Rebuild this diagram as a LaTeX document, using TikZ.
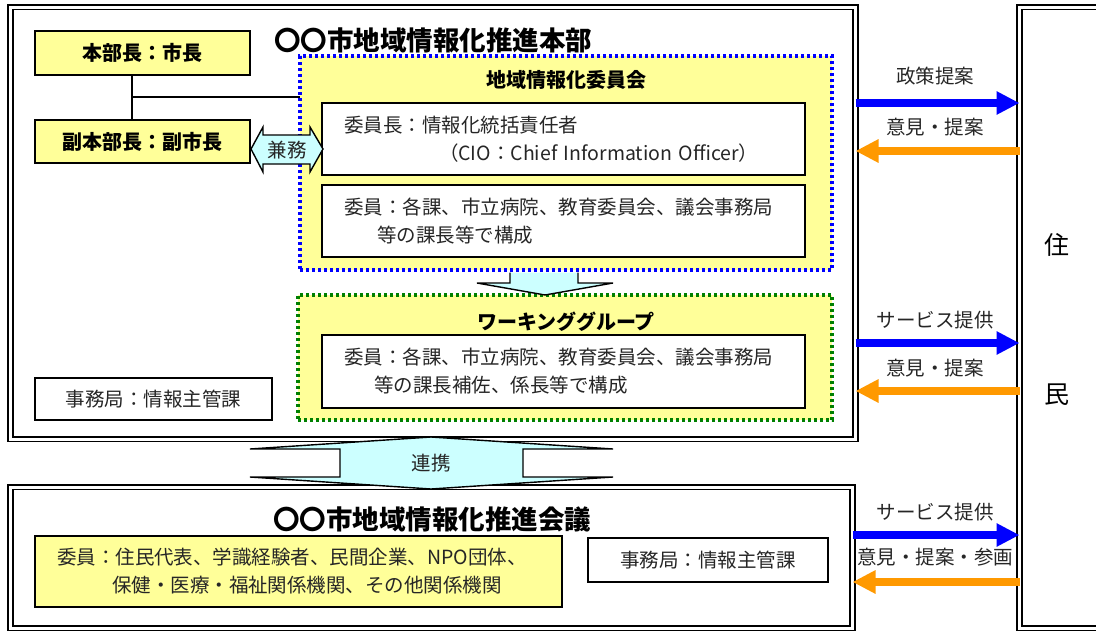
\documentclass[tikz,border=0pt]{standalone}
\usepackage{fontspec}
\setmainfont{Noto Sans CJK JP}
\usetikzlibrary{arrows.meta}

\definecolor{ylw}{HTML}{FFFF99}
\definecolor{lcyan}{HTML}{CCFFFF}
\definecolor{arrblue}{HTML}{0000FF}
\definecolor{arrorange}{HTML}{FF9900}
\definecolor{dotgreen}{HTML}{008000}

\newcommand{\txtbody}{\fontsize{19.5}{28}\selectfont}
\newcommand{\txthead}{\fontsize{20}{22}\selectfont\bfseries}
\newcommand{\txttitle}{\fontsize{26.5}{30}\selectfont\bfseries}

\tikzset{
  frame/.style={draw, line width=1.9pt, double, double distance=3pt,
    inner sep=0pt, outer sep=0pt},
  box/.style={draw, line width=1.4pt, inner sep=0pt, outer sep=0pt},
  textbox/.style={box, fill=white, text width=#1, align=left,
    inner xsep=22pt, font=\txtbody, text=black!85},
  headbox/.style={box, fill=ylw, font=\txthead},
  dotbox/.style={box, fill=ylw, line width=3.2pt, dash pattern=on 3pt off 3pt},
  flow/.style={line width=8pt, -{Triangle[length=23pt, width=22pt]}},
  lbl/.style={font=\txtbody, text=black!85, inner sep=0pt}
}

\begin{document}
\begin{tikzpicture}[x=1pt, y=-1pt]
  \clip (0,0) rectangle (1096,632);
  \fill[white] (0,0) rectangle (1096,632);

  % frames
  \node (hq) [frame, minimum width=845pt, minimum height=432pt] at (433,223) {};
  \node (council) [frame, minimum width=842pt, minimum height=141pt] at (431.5,557.5) {};
  \node (res) [frame, minimum width=96pt, minimum height=621pt] at (1067.5,317.5) {};

  \node (hqtitle) [font=\txttitle] at (433,40) {〇〇市地域情報化推進本部};
  \node (counciltitle) [font=\txttitle] at (432,519) {〇〇市地域情報化推進会議};

  % headquarters
  \node (mayor) [headbox, minimum width=215pt, minimum height=44pt] at (142.5,53) {本部長：市長};
  \node (vice) [headbox, minimum width=215pt, minimum height=43pt] at (142.5,141.5) {副本部長：副市長};
  \node (office) [box, fill=white, minimum width=237pt, minimum height=42pt,
    font=\txtbody, text=black!85] at (153.5,399) {事務局：情報主管課};

  \node (cmte) [dotbox, draw=arrblue, minimum width=532pt, minimum height=214pt] at (566,163) {};
  \node (wg) [dotbox, draw=dotgreen, minimum width=534pt, minimum height=125pt] at (565,357.5) {};

  \node (cmtetitle) [font=\txthead] at (566,80) {地域情報化委員会};
  \node (wgtitle) [font=\txthead] at (566,322) {ワーキンググループ};

  \node (chair) [textbox=439pt, minimum height=72pt] at (563.5,139)
    {委員長：情報化統括責任者\\\hspace*{95pt}（CIO：Chief Information Officer）};
  \node (members) [textbox=439pt, minimum height=72pt] at (563.5,221)
    {委員：各課、市立病院、教育委員会、議会事務局\\\hspace*{33pt}等の課長等で構成};
  \node (wgmembers) [textbox=439pt, minimum height=73pt] at (563.5,371.5)
    {委員：各課、市立病院、教育委員会、議会事務局\\\hspace*{30pt}等の課長補佐、係長等で構成};

  \coordinate (tee) at (132,97);
  \draw[line width=1.4pt] (mayor.south -| tee) -- (vice.north -| tee);
  \draw[line width=1.4pt] (tee) -- (cmte.west |- tee);

  % 兼務
  \filldraw[fill=lcyan, line width=1.4pt]
    (251,149) -- (263,127) -- (263,135) -- (310,135) -- (310,127) -- (323,149)
    -- (310,172) -- (310,164) -- (263,164) -- (263,172) -- cycle;
  \node (kenmu) [lbl] at (287,150) {兼務};

  % committee to working group
  \filldraw[fill=lcyan, line width=1.4pt]
    (510,272.5) -- (510,283) -- (477,283) -- (545,295) -- (613,283)
    -- (578,283) -- (578,272.5);

  % council
  \node (cmembers) [textbox=483pt, minimum height=71pt, fill=ylw] at (298.5,571.5)
    {委員：住民代表、学識経験者、民間企業、NPO団体、\\\hspace*{55pt}保健・医療・福祉関係機関、その他関係機関};
  \node (coffice) [box, fill=white, minimum width=240pt, minimum height=44pt,
    font=\txtbody, text=black!85] at (708,560) {事務局：情報主管課};

  % 連携
  \filldraw[fill=lcyan, line width=1.4pt]
    (340,449) -- (250,449) -- (431,437) -- (613,449) -- (523,449) -- (523,477)
    -- (613,477) -- (431,489) -- (250,477) -- (340,477) -- cycle;
  \node (renkei) [lbl] at (431,463) {連携};

  % residents
  \node (ju) [font=\fontsize{25}{25}\selectfont] at (1057,245) {住};
  \node (min) [font=\fontsize{25}{25}\selectfont] at (1057,395) {民};

  \draw[flow, arrblue] (hq.east |- 0,103) -- (res.west |- 0,103);
  \draw[flow, arrorange] (res.west |- 0,151) -- (hq.east |- 0,151);
  \draw[flow, arrblue] (hq.east |- 0,343) -- (res.west |- 0,343);
  \draw[flow, arrorange] (res.west |- 0,391) -- (hq.east |- 0,391);
  \draw[flow, arrblue] (council.east |- 0,535) -- (res.west |- 0,535);
  \draw[flow, arrorange] (res.west |- 0,582) -- (council.east |- 0,582);

  \node (l1) [lbl] at (935,76) {政策提案};
  \node (l2) [lbl] at (935,127) {意見・提案};
  \node (l3) [lbl] at (935,320) {サービス提供};
  \node (l4) [lbl] at (935,368) {意見・提案};
  \node (l5) [lbl] at (935,512) {サービス提供};
  \node (l6) [lbl] at (935,557) {意見・提案・参画};
\end{tikzpicture}
\end{document}
